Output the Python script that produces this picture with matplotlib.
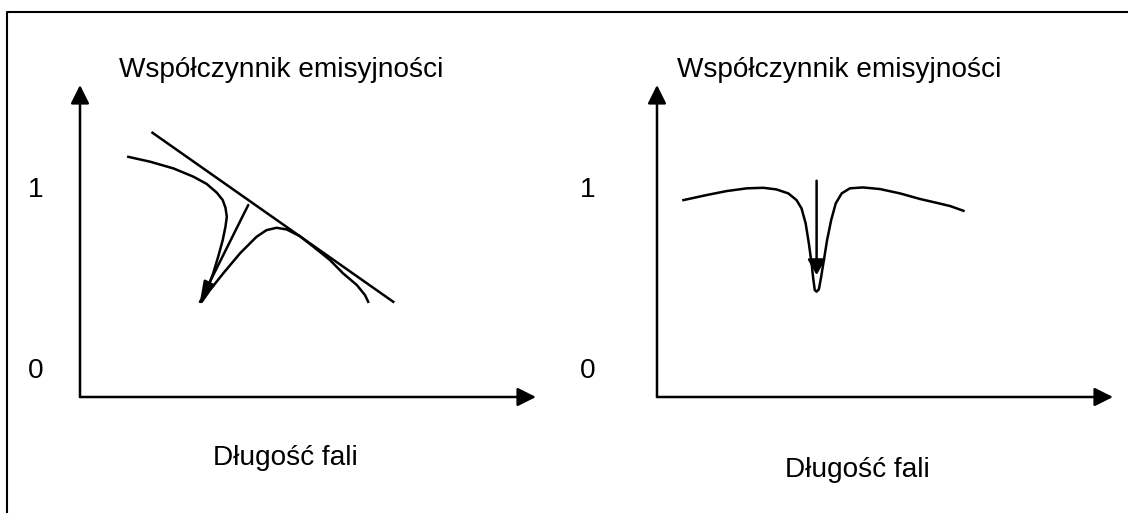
import matplotlib
matplotlib.use("Agg")
import matplotlib.pyplot as plt
from matplotlib.lines import Line2D

plt.rcParams['font.family'] = ['Liberation Sans', 'DejaVu Sans']

# panel texts
y_title = 'Współczynnik emisyjności'
x_title = 'Długość fali'
y_ticks = [0, 1]
y_ticklabels = ['0', '1']

# left panel: emissivity curve with a dip (wavelength, emissivity)
left_x = [1.06, 1.54, 2.05, 2.49, 2.78, 3.00, 3.13, 3.19, 3.22, 3.19, 3.13,
          3.03, 2.92, 2.81, 2.70, 2.63, 2.67, 2.85, 3.14, 3.51, 3.87, 4.09,
          4.31, 4.53, 4.82, 5.12, 5.48, 5.77, 6.07, 6.25, 6.32]
left_y = [1.167, 1.140, 1.103, 1.057, 1.017, 0.969, 0.928, 0.886, 0.836,
          0.781, 0.707, 0.615, 0.523, 0.449, 0.394, 0.366, 0.366, 0.431,
          0.523, 0.634, 0.725, 0.762, 0.775, 0.766, 0.729, 0.670, 0.597,
          0.523, 0.459, 0.403, 0.366]
# tangent (envelope) line
left_line_x = [1.59, 6.87]
left_line_y = [1.300, 0.366]
# arrow from the envelope down to the dip
left_arrow_start = (3.69, 0.901)
left_arrow_end = (2.63, 0.366)

# right panel: flat emissivity with a narrow absorption dip
right_x = [0.58, 1.09, 1.53, 1.97, 2.33, 2.62, 2.88, 3.06, 3.17, 3.26, 3.33,
           3.39, 3.43, 3.46, 3.50, 3.55, 3.60, 3.66, 3.73, 3.82, 3.92, 4.05,
           4.23, 4.52, 4.89, 5.33, 5.77, 6.13, 6.43, 6.72]
right_y = [0.928, 0.956, 0.978, 0.993, 0.996, 0.987, 0.965, 0.928, 0.882,
           0.799, 0.689, 0.578, 0.486, 0.431, 0.422, 0.435, 0.504, 0.597,
           0.707, 0.818, 0.910, 0.965, 0.993, 0.998, 0.989, 0.965, 0.934,
           0.913, 0.895, 0.869]
right_arrow_start = (3.50, 1.035)
right_arrow_end = (3.50, 0.514)

W, H = 1128, 513
LW = 1.8
FS = 20.2
fig = plt.figure(figsize=(W / 100, H / 100), dpi=100)


def px_rect(x0, y0, x1, y1):
    # pixel box (top-left origin) -> figure fraction
    return [x0 / W, 1 - y1 / H, (x1 - x0) / W, (y1 - y0) / H]


def setup_panel(ax, pad):
    ax.set_xlim(0, 10)
    ax.set_ylim(-0.160, 1.564)
    for s in ax.spines.values():
        s.set_visible(False)
    ax.set_xticks([])
    ax.set_yticks(y_ticks)
    ax.set_yticklabels(y_ticklabels)
    ax.tick_params(axis='y', length=0, pad=pad, labelsize=FS)
    ax.patch.set_alpha(0)
    head = dict(arrowstyle='-|>,head_length=0.4,head_width=0.2', color='k',
                lw=LW, mutation_scale=28, shrinkA=0, shrinkB=0)
    ax.annotate('', xy=(1, 0), xytext=(0, 0), xycoords='axes fraction',
                arrowprops=head)
    ax.annotate('', xy=(0, 1), xytext=(0, 0), xycoords='axes fraction',
                arrowprops=head)


ax1 = fig.add_axes(px_rect(80, 85, 536, 397))
setup_panel(ax1, 26)
ax1.plot(left_x, left_y, color='k', lw=LW, solid_joinstyle='round')
ax1.plot(left_line_x, left_line_y, color='k', lw=LW)
ax1.annotate('', xy=left_arrow_end, xytext=left_arrow_start,
             arrowprops=dict(arrowstyle='-|>,head_length=0.5,head_width=0.15',
                             color='k', lw=LW, mutation_scale=24,
                             shrinkA=0, shrinkB=0))

ax2 = fig.add_axes(px_rect(657, 85, 1113, 397))
setup_panel(ax2, 44)
ax2.plot(right_x, right_y, color='k', lw=LW, solid_joinstyle='round')
ax2.annotate('', xy=right_arrow_end, xytext=right_arrow_start,
             arrowprops=dict(arrowstyle='-|>,head_length=0.4,head_width=0.23',
                             color='k', lw=LW, mutation_scale=23.5,
                             shrinkA=0, shrinkB=0))

# titles and axis names
fig.text(119 / W, 1 - 70 / H, y_title, fontsize=FS, va='center', ha='left')
fig.text(677 / W, 1 - 70 / H, y_title, fontsize=FS, va='center', ha='left')
fig.text(285 / W, 1 - 458 / H, x_title, fontsize=FS, va='center', ha='center')
fig.text(857 / W, 1 - 470 / H, x_title, fontsize=FS, va='center', ha='center')

# frame (top and left edge)
fig.add_artist(Line2D([7 / W, 7 / W, 1], [0, 1 - 12 / H, 1 - 12 / H],
                      transform=fig.transFigure, color='k', lw=1.5))

fig.savefig('out.png', dpi=100)
